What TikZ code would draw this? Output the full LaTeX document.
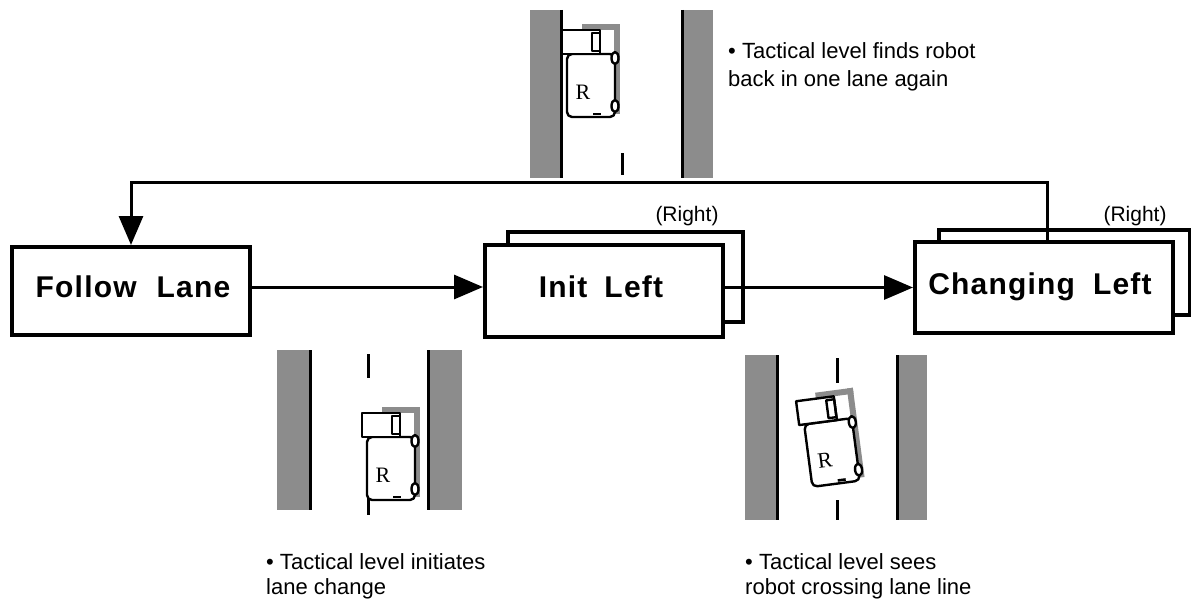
\documentclass[tikz,border=0pt]{standalone}
\usepackage{fontspec}
\setmainfont{Liberation Sans}
\newfontfamily\carfont{Liberation Serif}
\usetikzlibrary{arrows.meta,calc}
\tikzset{
  stateframe/.style={draw, line width=4pt, fill=white, inner sep=0pt},
  statelabel/.style={font=\fontsize{30}{30}\selectfont\bfseries\addfontfeatures{LetterSpace=4}, inner sep=0pt},
  flow/.style={line width=3pt, -{Triangle[length=29pt,width=24pt]}},
  note/.style={font=\fontsize{22}{26}\selectfont, anchor=base west, inner sep=0pt},
  sidelabel/.style={font=\fontsize{21}{21}\selectfont, inner sep=0pt},
  shade/.style={fill=black!45},
  curb/.style={line width=3pt},
  lanemark/.style={line width=3pt},
  carline/.style={line width=2.4pt, line join=round},
  carletter/.style={font=\fontsize{22}{22}\selectfont\carfont, inner sep=0pt},
}
\newcommand\robotcar[1]{%
  \fill[shade] (-9,-61) rectangle (29,-55);
  \fill[shade] (23,-61) rectangle (29,29);
  \draw[carline, fill=white, rounded corners=5pt] (-24,-31) -- (-24,32) -- (24,32) -- (24,-31) -- cycle;
  \draw[carline, fill=white] (-29,-55) rectangle (9,-31);
  \draw[carline] (1,-52) rectangle (9,-34);
  \draw[carline, fill=white] (24,-27) ellipse (3.5 and 6);
  \draw[carline, fill=white] (24,21) ellipse (3.5 and 6);
  \node[carletter] (#1) at (-8,7) {R};
  \draw[line width=2.6pt] (2,29) -- (10,29);
}
\begin{document}
\begin{tikzpicture}[x=1pt, y=-1pt]
\useasboundingbox (0,0) rectangle (1191,607);

% ---------- top road ----------
\fill[shade] (530,10) rectangle (561,178);
\draw[curb] (561,10) -- (561,178);
\fill[shade] (682,10) rectangle (713,178);
\draw[curb] (682,10) -- (682,178);
\draw[lanemark] (622,153) -- (622,175);
\begin{scope}[shift={(591,85)}]
  \robotcar{rtop}
\end{scope}
\node[note] (t1) at (728,59) {• Tactical level finds robot};
\node[note] (t2) at (728,87) {back in one lane again};

% ---------- bottom-left road ----------
\fill[shade] (277,350) rectangle (310,510);
\draw[curb] (310,350) -- (310,510);
\fill[shade] (428,350) rectangle (462,510);
\draw[curb] (428,350) -- (428,510);
\draw[lanemark] (368,354) -- (368,378);
\draw[lanemark] (368,492) -- (368,515);
\begin{scope}[shift={(391,468)}]
  \robotcar{rleft}
\end{scope}
\node[note] (b1) at (266,569) {• Tactical level initiates};
\node[note] (b2) at (266,594) {lane change};

% ---------- bottom-right road ----------
\fill[shade] (745,355) rectangle (777,520);
\draw[curb] (777,355) -- (777,520);
\fill[shade] (897,355) rectangle (927,520);
\draw[curb] (897,355) -- (897,520);
\draw[lanemark] (837,358) -- (837,383);
\draw[lanemark] (837,500) -- (837,520);
\begin{scope}[shift={(832,452)}, rotate=7.5, transform shape]
  \robotcar{rright}
\end{scope}
\node[note] (c1) at (745,569) {• Tactical level sees};
\node[note] (c2) at (745,594) {robot crossing lane line};

% ---------- states ----------
\node[stateframe, minimum width=238pt, minimum height=88pt] (follow) at (131,291) {};
\node[statelabel] (followtxt) at (133,287) {Follow\hspace{20pt}Lane};

\node[stateframe, minimum width=235pt, minimum height=90pt] (initB) at (625.5,277) {};
\node[stateframe, minimum width=238pt, minimum height=92pt] (initF) at (604,291) {};
\node[statelabel] (inittxt) at (601,287) {Init\hspace{17pt}Left};
\node[sidelabel] (initR) at (687,216) {(Right)};

\node[stateframe, minimum width=251pt, minimum height=85pt] (chgB) at (1064.5,272.5) {};
\node[stateframe, minimum width=258pt, minimum height=91pt] (chgF) at (1044,287.5) {};
\node[statelabel] (chgtxt) at (1040,287) {Changing\hspace{18pt}Left};
\node[sidelabel] (chgR) at (1135,216) {(Right)};

% ---------- transitions ----------
\draw[flow] ([yshift=4pt]follow.east) -- ([yshift=4pt]follow.east -| initF.west);
\draw[flow] (initF.east |- chgF.west) -- (chgF.west);
\coordinate (fbcorner) at (1047,182);
\draw[flow] (fbcorner |- chgF.north) -- (fbcorner) -| (follow.north);
\end{tikzpicture}
\end{document}
